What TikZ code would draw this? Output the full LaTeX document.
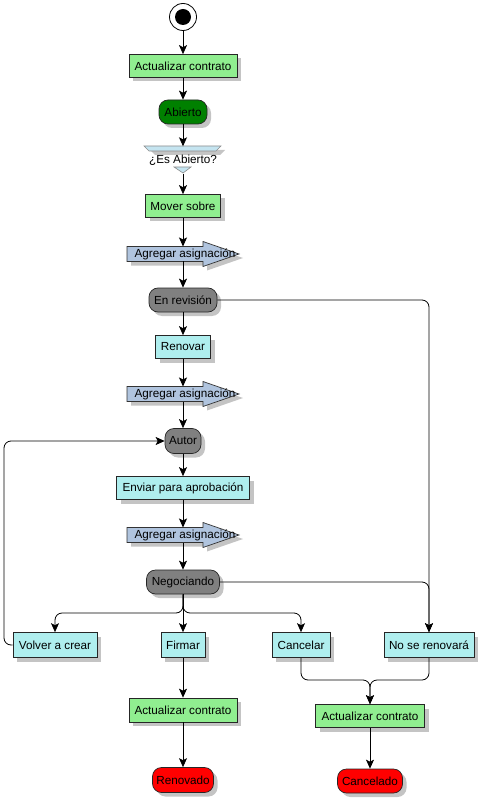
\documentclass[tikz,border=0pt]{standalone}
\usepackage{fontspec}
\setmainfont{Liberation Sans}
\usepackage{tikz}
\usetikzlibrary{arrows.meta,shadows}
\definecolor{verdeclaro}{HTML}{90EE90}
\definecolor{verdeosc}{HTML}{008000}
\definecolor{gris}{HTML}{808080}
\definecolor{turquesa}{HTML}{AFEEEE}
\definecolor{azulacero}{HTML}{B0C4DE}
\definecolor{celeste}{HTML}{C4E4F0}
\definecolor{sombragris}{HTML}{C4C4C4}
\tikzstyle{sombra}=[drop shadow={shadow xshift=4pt,shadow yshift=-4pt,fill=sombragris,opacity=1}]
\tikzstyle{caja}=[draw=black!85,line width=0.7pt,inner sep=0,font=\fontsize{11.7}{13}\selectfont,sombra]
\tikzstyle{accion}=[caja,rectangle,fill=verdeclaro,minimum height=23pt]
\tikzstyle{tarea}=[caja,rectangle,fill=turquesa,minimum height=25pt]
\tikzstyle{estado}=[caja,rectangle,rounded corners=9pt,fill=gris,minimum height=24pt]
\tikzstyle{final}=[caja,rectangle,rounded corners=9pt,fill=red,minimum height=25pt]
\tikzstyle{senal}=[inner sep=0,minimum height=15pt,font=\fontsize{11.7}{13}\selectfont]
\tikzstyle{flecha}=[line width=0.8pt,-{Stealth[length=9pt,width=8pt,inset=2pt]},rounded corners=7pt]

\begin{document}
\begin{tikzpicture}[x=1pt,y=-1pt]
    \useasboundingbox (0,0) rectangle (482,799);

                        % senales (flechas de asignacion)
                        \foreach \y in {254,394,535} {
                          \fill[sombragris] (131,\y-3.5) -- (207,\y-3.5) -- (207,\y-8.5) -- (243,\y+4) -- (207,\y+16.5) -- (207,\y+11.5) -- (131,\y+11.5) -- cycle;
                          \filldraw[fill=azulacero,draw=black!80,line width=0.7pt] (127,\y-7.5) -- (203,\y-7.5) -- (203,\y-12.5) -- (239,\y) -- (203,\y+12.5) -- (203,\y+7.5) -- (127,\y+7.5) -- cycle;
                        }

                        % decision
                        \fill[sombragris] (150,150) -- (225,150) -- (220,155) -- (155,155) -- cycle;
                        \filldraw[fill=celeste,draw=black!45,line width=0.6pt] (144,146) -- (221,146) -- (216,151) -- (149,151) -- cycle;
                        \filldraw[fill=celeste,draw=black!45,line width=0.6pt] (174,167) -- (191,167) -- (183,173) -- cycle;

                        \node[draw,circle,fill=white,line width=0.8pt,minimum size=27pt,inner sep=0] (inicio) at (183,17) {};
                        \fill (inicio) circle (8pt);

                        \node[accion,minimum width=108pt] (act1) at (183,66) {Actualizar contrato};
                        \node[estado,fill=verdeosc,minimum width=48pt] (abierto) at (183,112) {Abierto};
                        \node[inner sep=0,minimum height=27pt,font=\fontsize{11.7}{13}\selectfont] (dec) at (183,160) {¿Es Abierto?};
                        \node[accion,minimum width=75pt] (mover) at (183,206) {Mover sobre};
                        \node[senal] (as1) at (185,254) {Agregar asignación};
                        \node[estado,minimum width=68pt] (enrev) at (183,300) {En revisión};
                        \node[tarea,minimum width=55pt,minimum height=23pt] (renovar) at (183,347) {Renovar};
                        \node[senal] (as2) at (185,394) {Agregar asignación};
                        \node[estado,minimum width=36pt,minimum height=25pt] (autor) at (183,441) {Autor};
                        \node[tarea,minimum width=133pt,minimum height=23pt] (enviar) at (183,488) {Enviar para aprobación};
                        \node[senal] (as3) at (185,535) {Agregar asignación};
                        \node[estado,minimum width=73pt] (neg) at (183,582) {Negociando};

                        \node[tarea,minimum width=84pt] (volver) at (55,645) {Volver a crear};
                        \node[tarea,minimum width=44pt] (firmar) at (183,645) {Firmar};
                        \node[tarea,minimum width=58pt] (cancelar) at (301,645) {Cancelar};
                        \node[tarea,minimum width=90pt] (norenov) at (429,645) {No se renovará};

                        \node[accion,minimum width=108pt,minimum height=24pt] (act2) at (183,710) {Actualizar contrato};
                        \node[final,minimum width=61pt] (renovado) at (183,780) {Renovado};
                        \node[accion,minimum width=109pt] (act3) at (370,716) {Actualizar contrato};
                        \node[final,minimum width=65pt,minimum height=24pt] (cancelado) at (370,781) {Cancelado};

                        \coordinate (rama) at (183,613);
                        \coordinate (junta) at (370,680);
                        \coordinate (izq) at (4,441);

                        \draw[flecha] (inicio) -- (act1);
                        \draw[flecha] (act1) -- (abierto);
                        \draw[flecha] (abierto) -- (dec);
                        \draw[flecha] (dec) -- (mover);
                        \draw[flecha] (mover) -- (183,246.5);
                        \draw[flecha] (183,261.5) -- (enrev);
                        \draw[flecha] (enrev) -- (renovar);
                        \draw[flecha] (renovar) -- (183,386.5);
                        \draw[flecha] (183,401.5) -- (autor);
                        \draw[flecha] (autor) -- (enviar);
                        \draw[flecha] (enviar) -- (183,527.5);
                        \draw[flecha] (183,542.5) -- (neg);

                        \draw[flecha] (enrev.east) -| (norenov.north);
                        \draw[flecha] (neg.east) -| (norenov.north);
                        \draw[flecha] (neg.south) -- (rama) -| (volver.north);
                        \draw[flecha] (neg.south) -- (firmar.north);
                        \draw[flecha] (neg.south) -- (rama) -| (cancelar.north);
                        \draw[flecha] (volver.west) -| (izq) -- (autor.west);

                        \draw[flecha] (firmar) -- (act2);
                        \draw[flecha] (act2) -- (renovado);
                        \draw[flecha] (cancelar.south) |- (junta) -- (act3.north);
                        \draw[flecha] (norenov.south) |- (junta) -- (act3.north);
                        \draw[flecha] (act3) -- (cancelado);

    \end{tikzpicture}
\end{document}
